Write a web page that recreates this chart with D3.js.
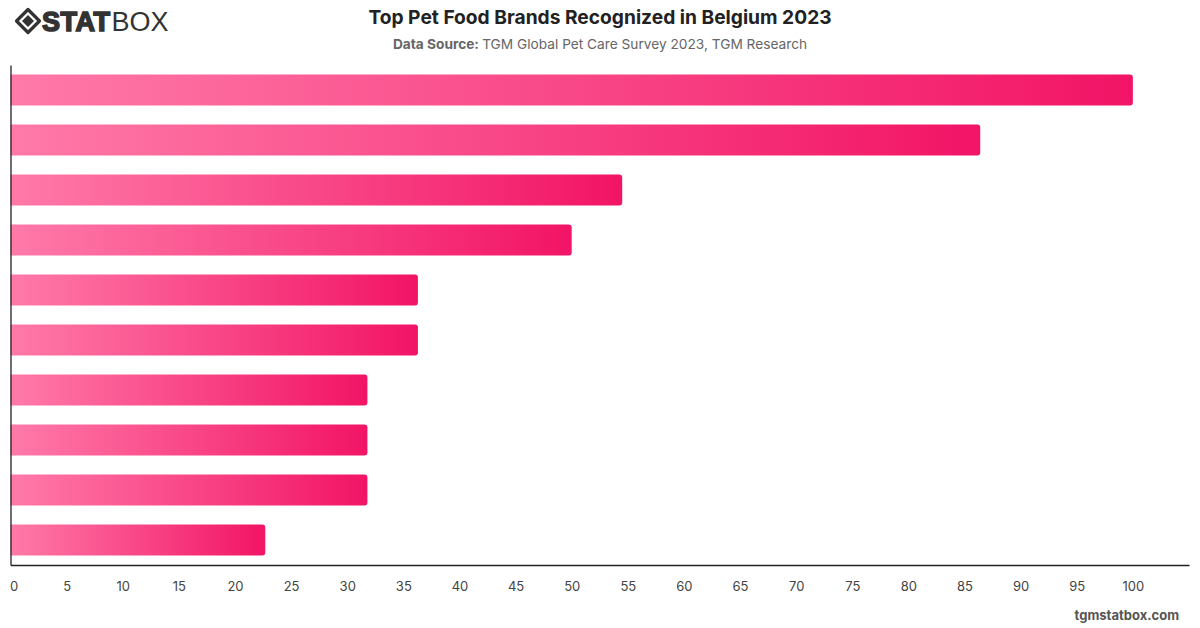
<!DOCTYPE html>
<html lang="en">
<head>
  <meta charset="UTF-8">
  <title>Top Pet Food Brands Recognized in Belgium 2023</title>
  <style>
    body { margin: 0; background: #fff; }
    svg { display: block; font-family: Inter, "Noto Sans", sans-serif; }
  </style>
</head>
<body>
  <svg id="chart" width="1200" height="628"></svg>
<script src="https://cdn.jsdelivr.net/npm/d3@7"></script>
<script>
  // brands are not labelled in the picture, so just numbered slots
  let categories = ["b1", "b2", "b3", "b4", "b5", "b6", "b7", "b8", "b9", "b10"]
  let values = [100, 86.4, 54.5, 50, 36.3, 36.3, 31.8, 31.8, 31.8, 22.7]
  let tickValues = [0, 5, 10, 15, 20, 25, 30, 35, 40, 45, 50, 55, 60, 65, 70, 75, 80, 85, 90, 95, 100]

  let svg = d3.select("#chart")

  let plotLeft = 10.5, plotRight = 1189, plotTop = 65, plotBottom = 565

  let x = d3.scaleLinear().domain([0, 105]).range([plotLeft, plotRight])
  let y = d3.scaleBand().domain(categories).range([plotTop, plotBottom]).paddingInner(0.38).paddingOuter(0.19)

  // gradient, stretched over each bar
  let defs = svg.append("defs")
  let grad = defs.append("linearGradient")
                 .attr("id", "barGrad")
                 .attr("x1", "0").attr("x2", "1")
                 .attr("y1", "0").attr("y2", "0")
  grad.append("stop").attr("offset", "0%").attr("stop-color", "#ff7aa8")
  grad.append("stop").attr("offset", "100%").attr("stop-color", "#f21466")

  // bars with rounded right end
  function barPath(d, i) {
    let x0 = x(0), x1 = x(d), y0 = y(categories[i]), h = y.bandwidth(), r = 3
    return `M${x0},${y0}H${x1 - r}Q${x1},${y0} ${x1},${y0 + r}V${y0 + h - r}Q${x1},${y0 + h} ${x1 - r},${y0 + h}H${x0}Z`
  }

  svg.append("g")
     .attr("class", "bars")
     .selectAll("path")
     .data(values)
     .enter()
     .append("path")
     .attr("d", barPath)
     .attr("fill", "url(#barGrad)")

  // axes
  let xAxis = svg.append("g")
                 .attr("transform", `translate(0,${plotBottom})`)
                 .call(d3.axisBottom(x).tickValues(tickValues).tickSize(0).tickPadding(17))
  xAxis.select(".domain").attr("stroke", "#222").attr("stroke-width", 1.3)
  xAxis.selectAll("text")
       .attr("fill", "#444")
       .attr("font-size", "13px")
       .attr("font-family", "Inter, 'Noto Sans', sans-serif")
  xAxis.selectAll(".tick").filter(d => d === 0).select("text").attr("dx", 3)

  let yAxis = svg.append("g")
                 .attr("transform", `translate(${plotLeft},0)`)
                 .call(d3.axisLeft(y).tickSize(0).tickFormat(""))
  yAxis.select(".domain").attr("stroke", "#222").attr("stroke-width", 1.3)

  // title + source
  svg.append("text")
     .attr("x", 600).attr("y", 24)
     .attr("text-anchor", "middle")
     .attr("font-size", "19.2px")
     .attr("font-weight", "700")
     .attr("fill", "#222")
     .text("Top Pet Food Brands Recognized in Belgium 2023")

  let src = svg.append("text")
               .attr("x", 600).attr("y", 49)
               .attr("text-anchor", "middle")
               .attr("font-size", "13.7px")
               .attr("fill", "#666")
  src.append("tspan").attr("font-weight", "700").text("Data Source: ")
  src.append("tspan").text("TGM Global Pet Care Survey 2023, TGM Research")

  // logo
  let logo = svg.append("g").attr("transform", "translate(28,21)")
  logo.append("path")
      .attr("d", "M0,-11.5L11.5,0L0,11.5L-11.5,0Z")
      .attr("fill", "none").attr("stroke", "#333").attr("stroke-width", 3.2)
      .attr("stroke-linejoin", "round")
  logo.append("path")
      .attr("d", "M0,-6L6,0L0,6L-6,0Z")
      .attr("fill", "#333")
  let logoText = svg.append("text")
                    .attr("x", 42).attr("y", 31)
                    .attr("font-size", "27px")
                    .attr("fill", "#333")
                    .attr("font-family", "'Liberation Sans', Arial, sans-serif")
  logoText.append("tspan")
          .attr("font-weight", "700")
          .attr("stroke", "#333").attr("stroke-width", 1.6)
          .attr("letter-spacing", "0.5")
          .text("STAT")
  logoText.append("tspan").attr("font-weight", "300").attr("dx", 1).text("BOX")

  // footer
  svg.append("text")
     .attr("x", 1179).attr("y", 620)
     .attr("text-anchor", "end")
     .attr("font-size", "13px")
     .attr("font-weight", "700")
     .attr("fill", "#555")
     .text("tgmstatbox.com")
</script>
</body>
</html>
